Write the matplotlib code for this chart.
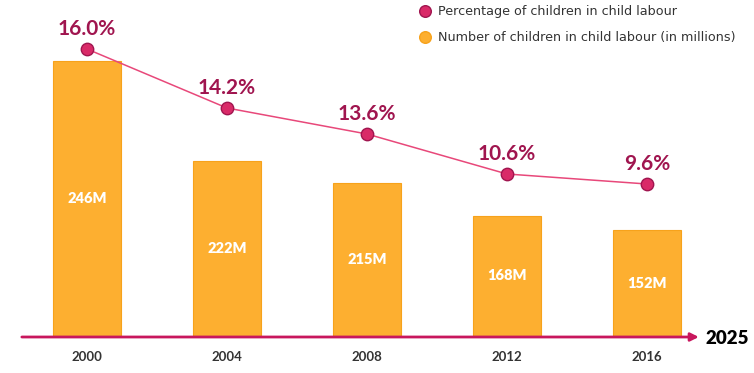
import matplotlib.pyplot as plt

# data
years = ['2000', '2004', '2008', '2012', '2016']
children_millions = [246, 222, 215, 168, 152]
percentage = [16.0, 14.2, 13.6, 10.6, 9.6]

# the infographic is not drawn to scale: heights as they appear in the picture
bar_heights = [275, 175, 153, 120, 106]
point_heights = [287, 228, 202, 162, 152]

orange = '#FDAF30'
magenta = '#C8175D'
dark_magenta = '#A0154F'
pink_line = '#E8487A'

fig = plt.figure(figsize=(7.54, 3.73), dpi=100)
ax = fig.add_axes([0, 0, 1, 1])
ax.set_xlim(-0.621, 4.764)
ax.set_ylim(-37, 336)
ax.axis('off')

x = range(len(years))

# bars
ax.bar(x, bar_heights, width=0.48, color=orange, edgecolor='#F7A21B',
       linewidth=0.8, zorder=2)
for xi, h, n in zip(x, bar_heights, children_millions):
    ax.text(xi, h / 2, f'{n}M', ha='center', va='center', color='white',
            fontsize=10.5, fontweight='heavy', family='Lato', zorder=3)

# line with markers
ax.plot(x, point_heights, color=pink_line, linewidth=1.1, zorder=3)
ax.scatter(x, point_heights, s=80, color='#D92A68', edgecolor=dark_magenta,
           linewidth=1.0, zorder=4)
for xi, h, p in zip(x, point_heights, percentage):
    ax.text(xi, h + 10, f'{p:.1f}%', ha='center', va='bottom',
            color=dark_magenta, fontsize=15, fontweight='bold', family='Lato',
            zorder=5)

# axis arrow
ax.annotate('', xy=(4.37, -1), xytext=(-0.465, -1),
            arrowprops=dict(arrowstyle='-|>', color=magenta, lw=2,
                            mutation_scale=12, shrinkA=0, shrinkB=0))
ax.text(4.42, -2, '2025', ha='left', va='center', fontsize=13.5,
        fontweight='heavy', color='black', family='Lato')

for xi, yr in zip(x, years):
    ax.text(xi, -21, yr, ha='center', va='center', fontsize=9.5,
            fontweight='bold', color='#333333', family='Lato')

# legend
ax.scatter([2.415], [325], s=70, color='#D92A68', edgecolor=dark_magenta,
           linewidth=1.0, clip_on=False)
ax.text(2.51, 325, 'Percentage of children in child labour', ha='left',
        va='center', fontsize=9.2, color='#333333', family='DejaVu Sans')
ax.scatter([2.415], [299], s=70, color=orange, edgecolor='#F7A21B',
           linewidth=1.0, clip_on=False)
ax.text(2.51, 299, 'Number of children in child labour (in millions)',
        ha='left', va='center', fontsize=9.2, color='#333333',
        family='DejaVu Sans')

plt.savefig('out.png', dpi=100)
